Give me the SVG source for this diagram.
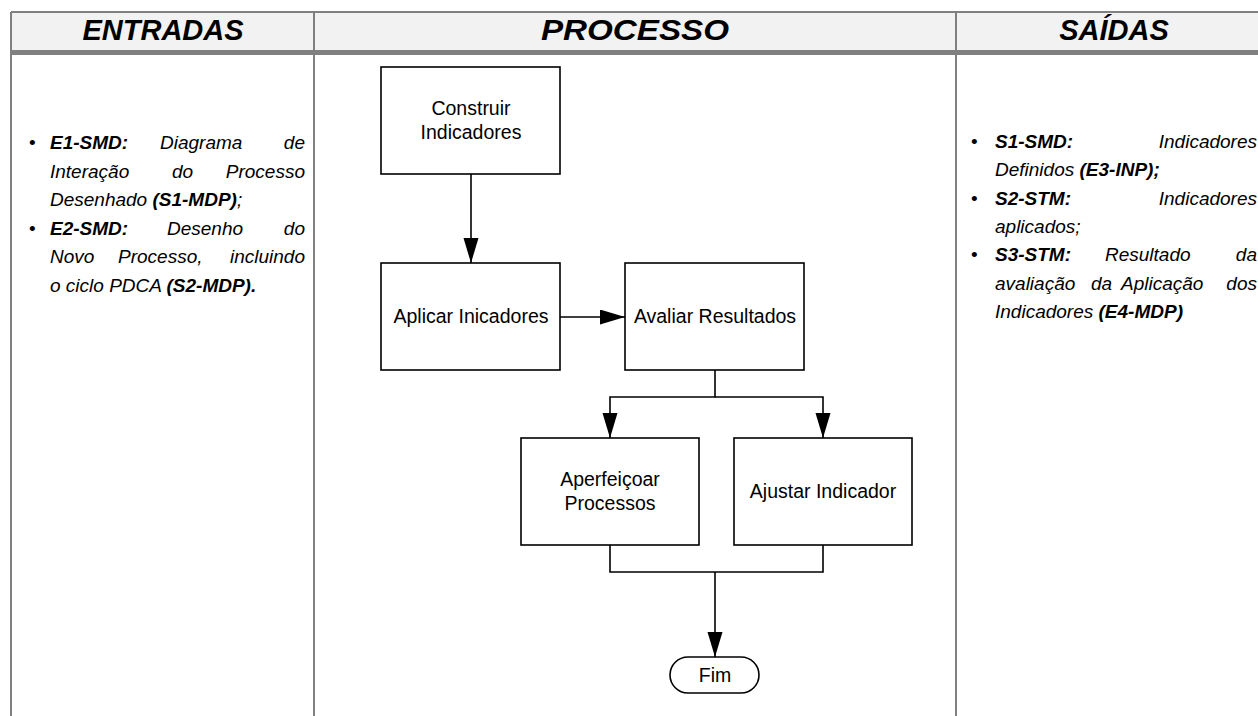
<svg xmlns="http://www.w3.org/2000/svg" width="1258" height="716" viewBox="0 0 1258 716">
<style>
.grid{stroke:#808080;stroke-width:2;fill:none}
.hdr{font-family:"Liberation Sans",Arial,sans-serif;font-weight:bold;font-style:italic;font-size:29px;fill:#000;text-anchor:middle}
.col{font-family:"Liberation Sans",Arial,sans-serif;font-style:italic;font-size:19px;fill:#000}
.b{font-weight:bold}
.bul{font-style:normal}
.end{text-anchor:end}
.box{fill:#fff;stroke:#000;stroke-width:1.6}
.lbl{font-family:"Liberation Sans",Arial,sans-serif;font-size:19.5px;fill:#000;text-anchor:middle}
.con{fill:none;stroke:#000;stroke-width:1.6}
</style>
<defs>
<marker id="arr" markerUnits="userSpaceOnUse" markerWidth="26" markerHeight="16" refX="25" refY="7.5" orient="auto">
<path d="M0,0 L25,7.5 L0,15 z" fill="#000"/>
</marker>
</defs>
<rect x="0" y="0" width="1258" height="716" fill="#fff"/>
<g id="table">
<rect x="11" y="12" width="1270" height="39" fill="#f2f2f2"/>
<path class="grid" d="M11,12 H1258 M11,12 V716 M314,12 V716 M956,12 V716"/>
<rect x="11" y="50" width="1247" height="5" fill="#808080"/>
<text class="hdr" x="163" y="40">ENTRADAS</text>
<text class="hdr" x="635" y="40" style="font-size:30px" textLength="188" lengthAdjust="spacingAndGlyphs">PROCESSO</text>
<text class="hdr" x="1114" y="40">SAÍDAS</text>
</g>
<g id="entradas" class="col">
<text class="bul" x="29" y="149">•</text>
<text class="b" x="50" y="149">E1-SMD:</text>
<text x="160" y="149">Diagrama</text>
<text class="end" x="305" y="149">de</text>
<text x="50" y="177.5">Interação</text>
<text x="172" y="177.5">do</text>
<text class="end" x="305" y="177.5">Processo</text>
<text x="50" y="206">Desenhado <tspan class="b">(S1-MDP)</tspan>;</text>
<text class="bul" x="29" y="234.5">•</text>
<text class="b" x="50" y="234.5">E2-SMD:</text>
<text x="167" y="234.5">Desenho</text>
<text class="end" x="305" y="234.5">do</text>
<text x="50" y="263">Novo</text>
<text x="118" y="263">Processo,</text>
<text class="end" x="305" y="263">incluindo</text>
<text x="50" y="291.5">o ciclo PDCA <tspan class="b">(S2-MDP).</tspan></text>
</g>
<g id="saidas" class="col">
<text class="bul" x="971" y="148">•</text>
<text class="b" x="995" y="148">S1-SMD:</text>
<text class="end" x="1257" y="148">Indicadores</text>
<text x="995" y="176.3">Definidos <tspan class="b">(E3-INP);</tspan></text>
<text class="bul" x="971" y="204.6">•</text>
<text class="b" x="995" y="204.6">S2-STM:</text>
<text class="end" x="1257" y="204.6">Indicadores</text>
<text x="995" y="232.9">aplicados;</text>
<text class="bul" x="971" y="261.2">•</text>
<text class="b" x="995" y="261.2">S3-STM:</text>
<text x="1105" y="261.2">Resultado</text>
<text class="end" x="1257" y="261.2">da</text>
<text x="995" y="289.5">avaliação</text>
<text x="1091" y="289.5">da</text>
<text x="1121" y="289.5">Aplicação</text>
<text class="end" x="1257" y="289.5">dos</text>
<text x="995" y="317.8">Indicadores <tspan class="b">(E4-MDP)</tspan></text>
</g>
<g id="connectors">
<path class="con" d="M471,174 V263" marker-end="url(#arr)"/>
<path class="con" d="M560,317 H625" marker-end="url(#arr)"/>
<path class="con" d="M715,370 V397 H610 V438" marker-end="url(#arr)"/>
<path class="con" d="M715,397 H823 V438" marker-end="url(#arr)"/>
<path class="con" d="M610,545 V572 H823 V545"/>
<path class="con" d="M715,572 V657" marker-end="url(#arr)"/>
</g>
<g id="construir">
<rect class="box" x="381" y="67" width="179" height="107"/>
<text class="lbl" x="471" y="115">Construir</text>
<text class="lbl" x="471" y="139">Indicadores</text>
</g>
<g id="aplicar">
<rect class="box" x="381" y="263" width="179" height="107"/>
<text class="lbl" x="471" y="323">Aplicar Inicadores</text>
</g>
<g id="avaliar">
<rect class="box" x="625" y="263" width="179" height="107"/>
<text class="lbl" x="715" y="323">Avaliar Resultados</text>
</g>
<g id="aperfeicoar">
<rect class="box" x="521" y="438" width="178" height="107"/>
<text class="lbl" x="610" y="486">Aperfeiçoar</text>
<text class="lbl" x="610" y="510">Processos</text>
</g>
<g id="ajustar">
<rect class="box" x="734" y="438" width="178" height="107"/>
<text class="lbl" x="823" y="498">Ajustar Indicador</text>
</g>
<g id="fim">
<rect class="box" x="670" y="657" width="89" height="36" rx="18" ry="18"/>
<text class="lbl" x="715" y="682">Fim</text>
</g>
</svg>
